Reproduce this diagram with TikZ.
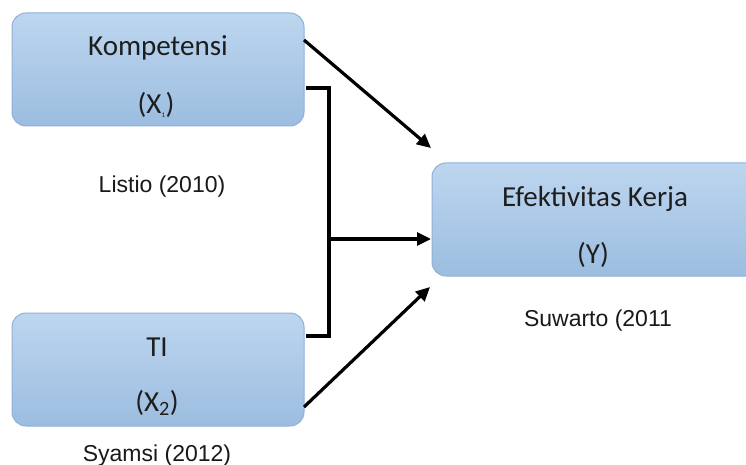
\documentclass[tikz,border=0pt]{standalone}
\usepackage{fontspec}
\setmainfont{Carlito}
\newfontfamily\labelfont{Liberation Sans}
\usetikzlibrary{arrows.meta}
\definecolor{boxtop}{HTML}{BDD6EF}
\definecolor{boxbot}{HTML}{9CBDE0}
\definecolor{boxline}{HTML}{8FB1D9}
\definecolor{boxtext}{HTML}{1E1E1E}
\tikzset{
  varbox/.style={draw=boxline, line width=1pt, rounded corners=14pt,
    top color=boxtop, bottom color=boxbot, inner sep=0pt},
  boxlabel/.style={text=boxtext, font=\fontsize{29}{32}\selectfont, inner sep=0pt, anchor=base},
  reflabel/.style={text=black!90, font=\labelfont\fontsize{23}{26}\selectfont, inner sep=0pt, anchor=base},
  link/.style={line width=3.2pt, draw=black},
  arr/.style={link, -{Triangle[length=14pt,width=13pt]}}
}
\begin{document}
\begin{tikzpicture}[x=1pt,y=-1pt]
\useasboundingbox (0,0) rectangle (746,465);
\clip (0,0) rectangle (746,465);
\fill[white] (0,0) rectangle (746,465);
% boxes
\node[varbox, minimum width=292pt, minimum height=113pt] (k) at (158,69.5) {};
\node[varbox, minimum width=292pt, minimum height=113pt] (ti) at (158,369.5) {};
\node[varbox, minimum width=330pt, minimum height=113pt] (y) at (597,219.5) {};
% texts
\node[boxlabel] (kt) at (158,56) {Kompetensi};
\node[boxlabel] (kx) at (156,114) {(X\textsubscript{\fontsize{7}{8}\selectfont 1})};
\node[boxlabel] (tit) at (157,356) {TI};
\node[boxlabel] (tix) at (157,411) {(X\textsubscript{2})};
\node[boxlabel] (yt) at (595,206) {Efektivitas Kerja};
\node[boxlabel] (yx) at (593,263) {(Y)};
\node[reflabel] (r1) at (162,192) {Listio (2010)};
\node[reflabel] (r2) at (157,461) {Syamsi (2012)};
\node[reflabel] (r3) at (598,326) {Suwarto (2011};
% connectors
\coordinate (k1) at (304,40);
\coordinate (k2) at (306,88);
\coordinate (t1) at (306,336);
\coordinate (t2) at (304,407);
\coordinate (yin1) at (431,148);
\coordinate (yin2) at (431,239);
\coordinate (yin3) at (430,287);
\coordinate (mid) at (329,239);
\draw[arr] (k1) -- (yin1);
\draw[link] (k2) -| (mid) |- (t1);
\draw[arr] (mid) -- (yin2);
\draw[arr] (t2) -- (yin3);
\end{tikzpicture}
\end{document}
